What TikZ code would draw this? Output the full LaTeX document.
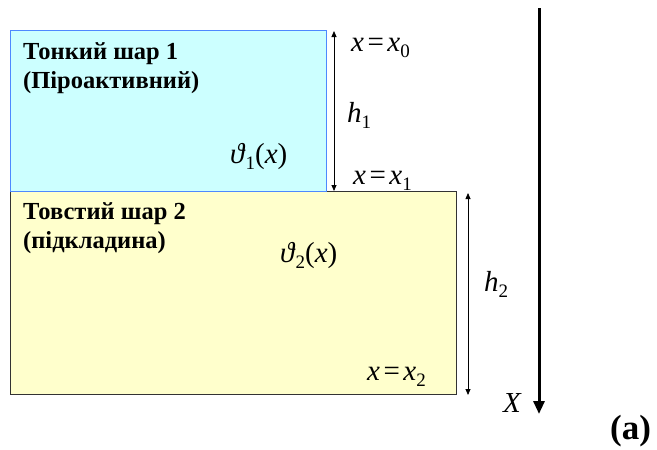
\documentclass[tikz,border=0pt]{standalone}
\usepackage{fontspec}
\setmainfont{Liberation Serif}
\usetikzlibrary{arrows.meta}
\definecolor{cyanfill}{HTML}{CCFFFF}
\definecolor{cyanedge}{HTML}{4D88FF}
\definecolor{yelfill}{HTML}{FFFFCC}
\definecolor{yeledge}{HTML}{333333}
\newcommand{\vx}{\textit{x}}
\newcommand{\vth}{\textit{ϑ}}
\newcommand{\sbs}[1]{\raisebox{-0.22em}{\fontsize{19}{19}\selectfont #1}}
\newcommand{\eqs}{\kern0.12em=\kern0.12em}
\tikzset{
  layerone/.style={draw=cyanedge, fill=cyanfill, line width=0.9pt, anchor=north west, inner sep=0pt},
  layertwo/.style={draw=yeledge, fill=yelfill, line width=0.7pt, anchor=north west, inner sep=0pt},
  lbl/.style={font=\fontsize{24.5}{29}\selectfont\bfseries, anchor=base west, inner sep=0pt},
  mth/.style={font=\fontsize{29}{30}\selectfont, inner sep=0pt, anchor=base west},
  dim/.style={line width=0.8pt, {Triangle[length=6pt,width=5pt]}-{Triangle[length=6pt,width=5pt]}},
  axis/.style={line width=3pt, -{Triangle[length=13pt,width=11pt]}}
}
\begin{document}
\begin{tikzpicture}[x=1pt,y=-1pt]
\useasboundingbox[fill=white] (0,0) rectangle (657,450);
\node[layertwo, minimum width=446pt, minimum height=203pt] (L2) at (10,191) {};
\node[layerone, minimum width=316pt, minimum height=161pt] (L1) at (10,30) {};
\node[lbl] (t1a) at (23,59) {Тонкий шар 1};
\node[lbl] (t1b) at (23,88) {(Піроактивний)};
\node[lbl] (t2a) at (23,219) {Товстий шар 2};
\node[lbl] (t2b) at (23,248) {(підкладина)};
\node[mth] (th1) at (230,163) {\vth\sbs{1}(\vx)};
\node[mth] (th2) at (280,262) {\vth\sbs{2}(\vx)};
\node[mth] (x0) at (351,51) {\vx\eqs\vx\sbs{0}};
\node[mth] (hh1) at (347,122) {\textit{h}\sbs{1}};
\node[mth] (x1) at (353,184) {\vx\eqs\vx\sbs{1}};
\node[mth] (x2) at (367,380) {\vx\eqs\vx\sbs{2}};
\node[mth] (hh2) at (484,291) {\textit{h}\sbs{2}};
\node[mth] (X) at (503,412) {\textit{X}};
\node[font=\fontsize{35}{36}\selectfont\bfseries, inner sep=0pt, anchor=base west] (a) at (610,439) {(a)};
\coordinate (a1) at (334,31);
\coordinate (a2) at (334,191);
\coordinate (b1) at (468,193);
\coordinate (b2) at (468,395);
\coordinate (c1) at (539,8);
\coordinate (c2) at (539,414);
\draw[dim] (a1) -- (a2);
\draw[dim] (b1) -- (b2);
\draw[axis] (c1) -- (c2);
\end{tikzpicture}
\end{document}
